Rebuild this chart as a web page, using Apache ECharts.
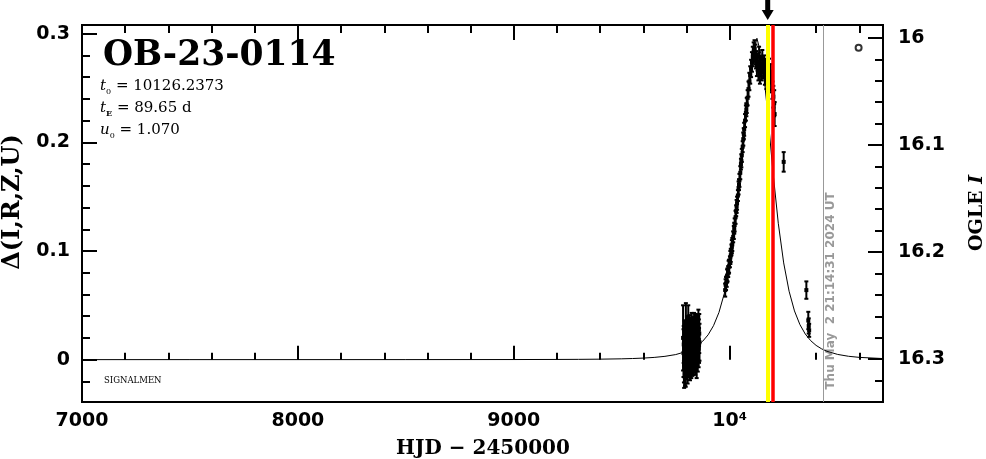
<!DOCTYPE html>
<html>
<head>
<meta charset="utf-8">
<script src="https://cdn.jsdelivr.net/npm/echarts@6/dist/echarts.min.js"></script>
<style>
html,body{margin:0;padding:0;background:#fff;}
#c{width:986px;height:459px;}
</style>
</head>
<body>
<div id="c"></div>
<script>
// ---- data ----
const xRange = [7000, 10710];
const leftRange = [-0.039, 0.308];
const magRange = [15.988, 16.34];
const xMajor = [7000, 8000, 9000, 10000];
const xMinor = [7200,7400,7600,7800,8200,8400,8600,8800,9200,9400,9600,9800,10200,10400,10600];
const yMajor = [0, 0.1, 0.2, 0.3];
const yMinor = [-0.02,0.02,0.04,0.06,0.08,0.12,0.14,0.16,0.18,0.22,0.24,0.26,0.28];
const magMajor = [16, 16.1, 16.2, 16.3];
const magMinor = [16.02,16.04,16.06,16.08,16.12,16.14,16.16,16.18,16.22,16.24,16.26,16.28,16.32];

// model light curve (t, delta)
const modelT = [7000,7500,8000,8500,9000,9200,9300,9400,9500,9550,9600,9650,9700,9750,9800,9825,9850,9875,9900,9925,9950,9975,10000,10025,10050,10075,10100,10126,10150,10175,10200,10225,10250,10275,10300,10325,10350,10375,10400,10425,10450,10500,10550,10600,10710];
const modelD = [0.000001,0.000003,0.000006,0.000018,0.000079,0.000171,0.000257,0.000423,0.000743,0.001014,0.001419,0.002039,0.00303,0.00465,0.00756,0.00974,0.01274,0.01696,0.02284,0.03126,0.04334,0.06086,0.08603,0.12137,0.16829,0.22343,0.27334,0.29579,0.27719,0.22894,0.17352,0.12549,0.08902,0.06297,0.04483,0.03228,0.02357,0.01745,0.01311,0.01000,0.00772,0.00478,0.00309,0.00208,0.00097];

// observations near baseline (first season): time, delta, error
const baseT = [9784,9789,9794,9797,9808,
  9786,9787,9788,9790,9791,9792,9793,9795,9796,9798,9799,9800,9801,9802,9803,9804,9805,9806,9807,9809,9810,9811,9812,9813,9814,9815,9816,9817,9818,9819,9820,9821,9822,9823,9824,9825,9826,9827,9828,9829,9830,9831,9832,9833,9834,9835,9836,9837,9838,9839,9840,9841,9842,9843,9844,9845,9846,9847,9848,9849,9850,9851,9852,9853,9854,9855,9856,9857,9858,9859,9860,9861,9862,9863,9864,9866];
const baseD = [0.020,-0.004,-0.003,0.024,0.020,
  0.006,0.014,-0.002,0.010,0.018,0.003,0.012,0.020,-0.004,0.008,
  0.016,0.001,0.011,0.022,0.005,0.013,-0.003,0.017,0.009,0.002,
  0.019,0.007,0.015,0.024,0.004,0.012,-0.001,0.018,0.010,0.006,
  0.021,0.013,0.003,0.016,0.025,0.008,0.014,0.001,0.019,0.011,
  0.005,0.023,0.015,0.009,0.017,0.027,0.006,0.013,0.020,0.010,
  0.004,0.018,0.026,0.012,0.008,0.021,0.015,0.003,0.019,0.024,
  0.011,0.017,0.007,0.022,0.014,0.028,0.010,0.018,0.013,0.024,0.016];
const baseE = [0.030,0.022,0.021,0.028,0.030,
  0.022,0.017,0.019,0.016,0.018,0.020,0.017,0.016,0.021,0.018,
  0.017,0.019,0.016,0.018,0.020,0.017,0.019,0.016,0.018,0.017,
  0.016,0.019,0.018,0.017,0.020,0.016,0.018,0.017,0.019,0.016,
  0.018,0.017,0.020,0.016,0.018,0.019,0.017,0.016,0.018,0.017,
  0.019,0.016,0.018,0.017,0.020,0.016,0.018,0.017,0.019,0.016,
  0.018,0.017,0.016,0.019,0.018,0.017,0.016,0.020,0.018,0.017,
  0.016,0.019,0.018,0.017,0.016,0.018,0.017,0.019,0.016,0.018,0.017];

// observations of the event season: time, delta, error
const obsT = [9979,9981,9983,9986,9988,9990,9993,9995,9997,10001,10003,10005,10008,10010,10012,10016,10019,10021,10023,10027,10030,10032,10034,10038,10041,10043,10045,10049,10052,10054,10056,10060,10063,10065,10067,10071,10075,10077,10079,10083,10087,10091,10095,10099,10103,10107,10111,10115,10119,10122,10126,10129,10133,10136,10140,10144,10148,10151,10155,10159,10163,10166,10170,10174,10178,10182,10186,10190,10194,10198,10202,10206,10208,
  10250,10355,10364,10366,10368];
const obsD = [0.064,0.069,0.070,0.072,0.077,0.078,0.081,0.085,0.086,0.090,0.094,0.096,0.101,0.104,0.106,0.113,0.117,0.121,0.124,0.131,0.137,0.141,0.144,0.151,0.158,0.161,0.165,0.172,0.180,0.183,0.188,0.196,0.203,0.208,0.212,0.220,0.227,0.230,0.234,0.241,0.249,0.256,0.262,0.268,0.274,0.279,0.283,0.286,0.281,0.276,0.270,0.274,0.266,0.279,0.262,0.270,0.265,0.276,0.268,0.272,0.262,0.269,0.258,0.266,0.260,0.268,0.257,0.264,0.255,0.248,0.242,0.236,0.226,
  0.182,0.064,0.036,0.031,0.027];
const obsE = [0.006,0.005,0.006,0.005,0.006,0.006,0.005,0.006,0.006,0.005,0.006,0.006,0.005,0.006,0.006,0.005,0.006,0.005,0.006,0.006,0.005,0.006,0.006,0.005,0.006,0.005,0.006,0.006,0.005,0.006,0.006,0.005,0.006,0.005,0.006,0.006,0.007,0.006,0.007,0.007,0.007,0.008,0.008,0.008,0.009,0.009,0.009,0.008,0.009,0.008,0.009,0.008,0.009,0.009,0.008,0.009,0.008,0.009,0.009,0.008,0.009,0.008,0.009,0.009,0.008,0.009,0.009,0.008,0.009,0.008,0.010,0.012,0.011,
  0.009,0.008,0.008,0.007,0.006];

const circleT = [10597];
const circleD = [0.287];

const yellowT = 10176;
const redT = 10201;
const nowT = 10432;
const arrowT = 10176;

const titleText = 'OB-23-0114';
const dateText = 'Thu May  2 21:14:31 2024 UT';

// ---- chart ----
const chart = echarts.init(document.getElementById('c'), null, {renderer: 'canvas'});

const modelData = modelT.map((t, i) => [t, modelD[i]]);
const obsData = baseT.map((t, i) => [t, baseD[i], baseE[i]])
  .concat(obsT.map((t, i) => [t, obsD[i], obsE[i]]));
const circleData = circleT.map((t, i) => [t, circleD[i]]);

const labelFont = {color: '#000', fontFamily: 'DejaVu Sans', fontWeight: 'bold', fontSize: 19};

function xAx(pos, values, len, labels) {
  return {
    type: 'value', position: pos, min: xRange[0], max: xRange[1],
    axisLine: {show: false}, splitLine: {show: false},
    axisTick: {show: true, inside: true, length: len, customValues: values, lineStyle: {color: '#000', width: 2}},
    axisLabel: labels ? Object.assign({show: true, margin: 10, customValues: values,
      formatter: v => (v === 10000 ? '10\u2074' : String(v))}, labelFont) : {show: false}
  };
}
function yAx(pos, rng, values, len, labels, inv, fmt, margin) {
  return {
    type: 'value', position: pos, min: rng[0], max: rng[1], inverse: !!inv,
    axisLine: {show: false}, splitLine: {show: false},
    axisTick: {show: true, inside: true, length: len, customValues: values, lineStyle: {color: '#000', width: 2}},
    axisLabel: labels ? Object.assign({show: true, margin: margin, customValues: values, formatter: fmt}, labelFont) : {show: false}
  };
}

chart.setOption({
  animation: false,
  backgroundColor: '#fff',
  grid: {left: 82, right: 103, top: 25, bottom: 57, show: true, borderColor: '#000', borderWidth: 2, containLabel: false, outerBoundsMode: 'none'},
  xAxis: [
    xAx('bottom', xMajor, 14, true),
    xAx('bottom', xMinor, 7, false),
    xAx('top', xMajor, 15, false),
    xAx('top', xMinor, 8, false)
  ],
  yAxis: [
    yAx('left', leftRange, yMajor, 15, true, false, v => String(Math.round(v * 10) / 10), 12),
    yAx('left', leftRange, yMinor, 8, false),
    yAx('right', magRange, magMajor, 15, true, true, v => String(Math.round(v * 10) / 10), 15),
    yAx('right', magRange, magMinor, 8, false, true)
  ],
  series: [
    {
      type: 'line', xAxisIndex: 0, yAxisIndex: 0, data: modelData, showSymbol: false, silent: true,
      lineStyle: {color: '#000', width: 1}, z: 3,
      markLine: {
        silent: true, symbol: ['none', 'none'], label: {show: false}, animation: false,
        data: [
          {xAxis: nowT, lineStyle: {color: '#999', width: 1, type: 'solid'}},
          {xAxis: yellowT, lineStyle: {color: '#ffff00', width: 4, type: 'solid'}},
          {xAxis: redT, lineStyle: {color: '#ff0000', width: 3.5, type: 'solid'}}
        ]
      }
    },
    {
      type: 'custom', xAxisIndex: 0, yAxisIndex: 0, data: obsData, silent: true, z: 4,
      encode: {x: 0, y: 1},
      renderItem: function (params, api) {
        const t = api.value(0), d = api.value(1), e = api.value(2);
        const top = api.coord([t, d + e]);
        const bot = api.coord([t, d - e]);
        const c = api.coord([t, d]);
        const st = {stroke: '#000', lineWidth: 2};
        return {
          type: 'group',
          children: [
            {type: 'line', shape: {x1: top[0], y1: top[1], x2: bot[0], y2: bot[1]}, style: st},
            {type: 'line', shape: {x1: top[0] - 2, y1: top[1], x2: top[0] + 2, y2: top[1]}, style: st},
            {type: 'line', shape: {x1: bot[0] - 2, y1: bot[1], x2: bot[0] + 2, y2: bot[1]}, style: st},
            {type: 'rect', shape: {x: c[0] - 2, y: c[1] - 2, width: 4, height: 4}, style: {fill: '#000'}}
          ]
        };
      }
    },
    {
      type: 'scatter', xAxisIndex: 0, yAxisIndex: 0, data: circleData, silent: true,
      symbol: 'circle', symbolSize: 6,
      itemStyle: {color: '#fff', borderColor: '#000', borderWidth: 2}
    }
  ]
});

function px(t) { return chart.convertToPixel({xAxisIndex: 0}, t); }

const serif = 'DejaVu Serif';
const paramRich = {
  it: {fontFamily: serif, fontStyle: 'italic', fontSize: 15, lineHeight: 19, verticalAlign: 'middle'},
  n: {fontFamily: serif, fontSize: 15, lineHeight: 19, verticalAlign: 'middle'},
  sub: {fontFamily: serif, fontSize: 8, lineHeight: 19, verticalAlign: 'bottom'},
  subb: {fontFamily: serif, fontSize: 8, fontWeight: 'bold', lineHeight: 19, verticalAlign: 'bottom'}
};
const ax = px(arrowT);
const nx = px(nowT);

chart.setOption({
  graphic: [
    {type: 'text', x: 103, y: 56, style: {text: titleText, fontFamily: serif, fontWeight: 'bold', fontSize: 34.5, fill: '#000', align: 'left', verticalAlign: 'middle'}},
    {type: 'text', x: 100, y: 86, style: {text: '{it|t}{sub|0}{n| = 10126.2373}', rich: paramRich, fill: '#000', align: 'left', verticalAlign: 'middle'}},
    {type: 'text', x: 100, y: 108, style: {text: '{it|t}{subb|E}{n| = 89.65 d}', rich: paramRich, fill: '#000', align: 'left', verticalAlign: 'middle'}},
    {type: 'text', x: 100, y: 130, style: {text: '{it|u}{sub|0}{n| = 1.070}', rich: paramRich, fill: '#000', align: 'left', verticalAlign: 'middle'}},
    {type: 'text', x: 104, y: 381, style: {text: 'SIGNALMEN', fontFamily: serif, fontSize: 8.5, fill: '#000', align: 'left', verticalAlign: 'middle'}},
    {type: 'text', x: 483, y: 449, style: {text: 'HJD \u2212 2450000', fontFamily: serif, fontWeight: 'bold', fontSize: 20, fill: '#000', align: 'center', verticalAlign: 'middle'}},
    {type: 'text', x: 13, y: 202, rotation: Math.PI / 2, style: {text: '\u0394(I,R,Z,U)', fontFamily: serif, fontWeight: 'bold', fontSize: 24, fill: '#000', align: 'center', verticalAlign: 'middle'}},
    {type: 'text', x: 977, y: 213, rotation: Math.PI / 2, style: {text: '{a|OGLE }{b|I}', rich: {a: {fontFamily: serif, fontWeight: 'bold', fontSize: 19}, b: {fontFamily: serif, fontWeight: 'bold', fontStyle: 'italic', fontSize: 19}}, fill: '#000', align: 'center', verticalAlign: 'middle'}},
    {type: 'text', x: nx + 8, y: 291, rotation: Math.PI / 2, style: {text: dateText, fontFamily: 'DejaVu Sans', fontWeight: 'bold', fontSize: 12, fill: '#999', align: 'center', verticalAlign: 'middle'}},
    {type: 'group', x: ax, y: 0, children: [
      {type: 'rect', shape: {x: -2.5, y: 0, width: 5, height: 12}, style: {fill: '#000'}},
      {type: 'polygon', shape: {points: [[-6, 10], [6, 10], [0, 20]]}, style: {fill: '#000'}}
    ]}
  ]
});
</script>
</body>
</html>
